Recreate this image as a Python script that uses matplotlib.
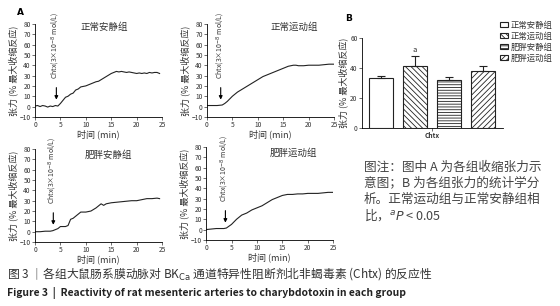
import numpy as np
import matplotlib.pyplot as plt

plt.rcParams['font.family'] = ['Noto Sans CJK SC', 'DejaVu Sans']
plt.rcParams['hatch.linewidth'] = 0.6
plt.rcParams['axes.unicode_minus'] = True

# traces (time in min, tension in % max)
t_ns = [0, 0.5, 1, 1.5, 2, 2.5, 3, 3.5, 4, 4.5, 5, 5.5, 6, 6.5, 7, 7.5, 8, 8.5, 9, 9.5, 10,
        10.5, 11, 11.5, 12, 12.5, 13, 13.5, 14, 14.5, 15, 15.5, 16, 16.5, 17, 17.5, 18, 18.5,
        19, 19.5, 20, 20.5, 21, 21.5, 22, 22.5, 23, 23.5, 24, 24.5]
y_ns = [0.5, 1, 0, 1, 0.5, -0.5, 0.5, 0, 1, 0.5, 3, 6, 9, 10, 12, 13, 16, 17, 19, 19.5, 20,
        21, 22, 23, 24, 24.5, 26, 27.5, 29, 30.5, 32, 33, 34, 33.5, 34, 33.5, 33, 33.5,
        33, 32.5, 32, 32.5, 32, 32.5, 32, 33, 32.5, 33, 33, 32]

t_ne = [0, 1, 2, 3, 3.5, 4, 5, 6, 7, 8, 9, 10, 11, 12, 13, 14, 15, 16, 17, 17.5, 18, 19, 20,
        21, 22, 23, 24, 25]
y_ne = [1, 1, 1, 1.5, 3, 5, 10, 14, 17, 20, 23, 26, 29, 31, 33, 35, 37, 39, 40, 40, 39.5,
        39.5, 40, 40, 40, 40.5, 41, 41]

t_os = [0, 1, 2, 3, 3.5, 4, 4.5, 5, 5.5, 6, 6.5, 7, 7.5, 8, 8.5, 9, 9.5, 10, 11, 12, 12.5,
        13, 13.5, 14, 15, 16, 17, 18, 19, 20, 21, 22, 23, 24, 24.5]
y_os = [0, 0, 0.5, 0.5, 1, 2, 3, 5, 5, 5, 6, 12, 13, 15, 17, 19, 19, 19, 20, 23, 25,
        27, 25.5, 27, 28, 28.5, 29, 29.5, 30, 30, 31, 32, 32, 32.5, 32]

t_oe = [0, 1, 2, 3, 3.5, 4, 5, 6, 7, 8, 9, 10, 11, 12, 13, 14, 15, 16, 17, 18, 19, 20, 21,
        22, 23, 24, 25]
y_oe = [0, 0.5, 1, 1, 1, 1.5, 5, 10, 14, 16, 19, 21, 23, 26, 29, 31, 33, 34, 34, 34.5, 34.5,
        35, 35, 35, 35.5, 36, 36]

groups = ['正常安静组', '正常运动组', '肥胖安静组', '肥胖运动组']
arrow_t = [4.2, 2.7, 3.6, 3.8]
title_pos = [(13.6, 77), (17.1, 77), (14.4, 74), (17.2, 74)]

# panel B
bar_mean = [33, 41.6, 32.2, 38.2]
bar_sem = [1.6, 6.1, 1.8, 3.2]
hatches = ['', '\\\\\\\\\\\\', '------', '//////']

fig = plt.figure(figsize=(5.6, 3.06), dpi=100)
txt = '#333333'

rects = [[0.0625, 0.618, 0.227, 0.304], [0.3696, 0.618, 0.227, 0.304],
         [0.0625, 0.209, 0.227, 0.304], [0.368, 0.216, 0.227, 0.304]]
traces = [(t_ns, y_ns), (t_ne, y_ne), (t_os, y_os), (t_oe, y_oe)]
for i in range(4):
    ax = fig.add_axes(rects[i])
    ax.plot(traces[i][0], traces[i][1], color='#222222', lw=0.8)
    ax.set_xlim(0, 25)
    ax.set_ylim(-10, 80)
    ax.set_xticks(range(0, 26, 5))
    ax.set_yticks(range(-10, 81, 10))
    for s in ['top', 'right']:
        ax.spines[s].set_visible(False)
    for s in ['left', 'bottom']:
        ax.spines[s].set_linewidth(0.6)
    ax.tick_params(labelsize=4.8, width=0.5, length=2, pad=1, colors=txt)
    ax.set_xlabel('时间 (min)', fontsize=6.5, labelpad=0, color=txt)
    ax.set_ylabel('张力 (% 最大收缩反应)', fontsize=6.5, labelpad=1, color=txt)
    ax.text(title_pos[i][0], title_pos[i][1], groups[i], fontsize=6.8, ha='center',
            va='center', color=txt)
    a = arrow_t[i]
    ax.annotate('', xy=(a, 4), xytext=(a, 21),
                arrowprops=dict(arrowstyle='-|>', color='k', lw=0.8, mutation_scale=5))
    ax.text(a, 27, 'Chtx(3×10$^{-8}$ mol/L)', rotation=90, fontsize=5,
            ha='center', va='bottom', color=txt)

fig.text(0.03, 0.96, 'A', fontsize=6.5, fontweight='bold', family='DejaVu Sans', va='center')
fig.text(0.616, 0.941, 'B', fontsize=6.5, fontweight='bold', family='DejaVu Sans', va='center')

axb = fig.add_axes([0.646, 0.582, 0.252, 0.294])
x = np.arange(4)
for i in range(4):
    axb.bar(x[i], bar_mean[i], width=0.7, color='white', edgecolor='#222222',
            hatch=hatches[i], lw=0.8, label=groups[i])
    axb.errorbar(x[i], bar_mean[i], yerr=[[0], [bar_sem[i]]], color='#222222',
                 lw=0.8, capsize=3, capthick=0.8)
axb.text(x[1], bar_mean[1] + bar_sem[1] + 3, 'a', fontsize=5.5, ha='center', color=txt)
axb.set_xlim(-0.56, 3.59)
axb.set_ylim(0, 60)
axb.set_yticks([0, 20, 40, 60])
axb.set_xticks([1.5])
axb.set_xticklabels(['Chtx'], fontsize=5, fontweight='bold')
for s in ['top', 'right']:
    axb.spines[s].set_visible(False)
for s in ['left', 'bottom']:
    axb.spines[s].set_linewidth(0.6)
axb.tick_params(labelsize=4.8, width=0.5, length=2, pad=1, colors=txt)
axb.set_ylabel('张力 (% 最大收缩反应)', fontsize=6.5, labelpad=1, color=txt)
leg = axb.legend(loc='upper left', bbox_to_anchor=(0.95, 1.24), fontsize=6, frameon=False,
                 handlelength=1.0, handleheight=0.6, handletextpad=0.3, labelspacing=0.25,
                 borderpad=0)
for t in leg.get_texts():
    t.set_color(txt)

note = ['图注：图中 A 为各组收缩张力示', '意图；B 为各组张力的统计学分',
        '析。正常运动组与正常安静组相', '比，$^{a}$$P$ < 0.05']
for k, line in enumerate(note):
    fig.text(0.650, 0.454 - k * 0.052, line, fontsize=9.1, color='#444444', va='center')

fig.text(0.012, 0.105, '图 3 ｜各组大鼠肠系膜动脉对 BK$_{\\mathrm{Ca}}$ 通道特异性阻断剂北非蝎毒素 (Chtx) 的反应性',
         fontsize=8.5, color='#333333', va='center')
fig.text(0.012, 0.043, 'Figure 3  |  Reactivity of rat mesenteric arteries to charybdotoxin in each group',
         fontsize=7.45, fontweight='bold', color='#222222', va='center')

fig.savefig('out.png', dpi=100)
